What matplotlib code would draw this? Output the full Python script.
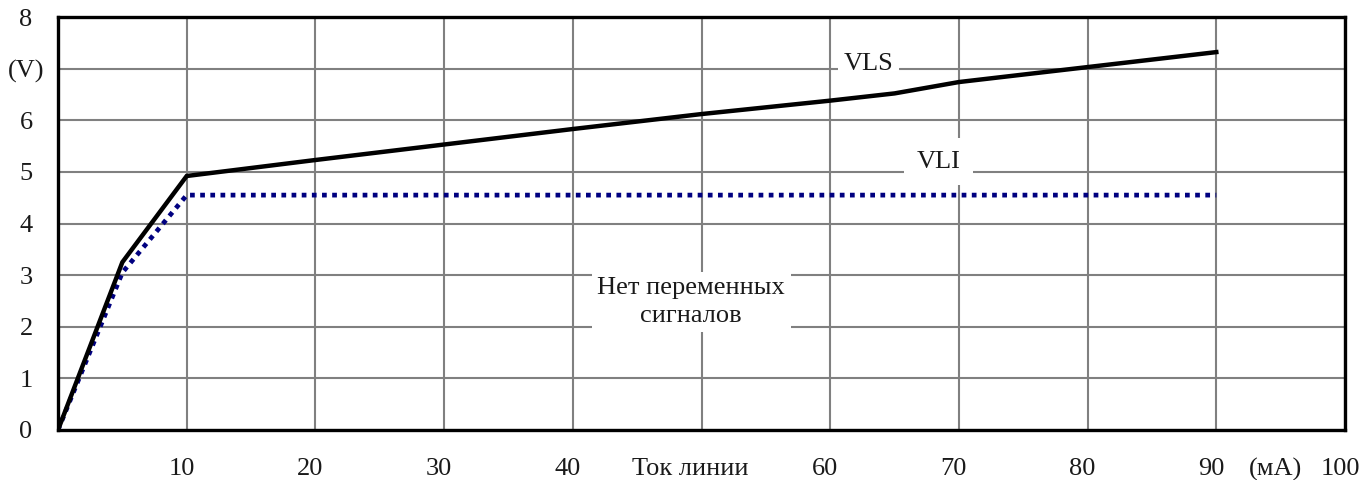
import matplotlib
matplotlib.use("Agg")
import matplotlib.pyplot as plt
import matplotlib.transforms as mtransforms

plt.rcParams['font.family'] = ['Liberation Serif', 'DejaVu Serif']

# line current (mA) and line voltages (V)
vls_current = [0, 5, 10, 20, 30, 40, 50, 60, 65, 70, 80, 90]
vls_voltage = [0, 3.25, 4.92, 5.23, 5.53, 5.83, 6.12, 6.38, 6.52, 6.74, 7.03, 7.32]

vli_current = [0, 5, 10, 90]
vli_voltage = [0, 3.05, 4.55, 4.55]

x_ticks = [10, 20, 30, 40, 50, 60, 70, 80, 90, 100]
x_labels = ['10', '20', '30', '40', 'Ток линии', '60', '70', '80', '90', '100']
y_ticks = [0, 1, 2, 3, 4, 5, 6, 7, 8]
y_labels = ['0', '1', '2', '3', '4', '5', '6', '(V)', '8']

FS = 19
TXT = '#1a1a1a'

W, H = 1361, 480
fig = plt.figure(figsize=(W / 100, H / 100), dpi=100)
ax = fig.add_axes([58 / W, (H - 430) / H, (1345 - 58) / W, (430 - 17) / H])

ax.plot(vls_current, vls_voltage, color='black', lw=3.2, zorder=4,
        solid_joinstyle='miter')
ax.plot(vli_current, vli_voltage, color='#000080', lw=3.4,
        linestyle=(0, (1, 1.15)), zorder=3)

ax.set_xlim(0, 100)
ax.set_ylim(0, 8)
ax.set_xticks(x_ticks)
ax.set_xticklabels(x_labels)
ax.set_yticks(y_ticks)
ax.set_yticklabels(y_labels, ha='center')
ax.tick_params(length=0, labelsize=FS, labelcolor=TXT)
ax.tick_params(axis='x', pad=20)
ax.tick_params(axis='y', pad=23)

# labels in the source sit a few pixels left of their gridlines
for lab in ax.get_xticklabels():
    dx = -11 if lab.get_text() == 'Ток линии' else -5
    lab.set_transform(lab.get_transform() +
                      mtransforms.ScaledTranslation(dx / 100, 0, fig.dpi_scale_trans))

ax.grid(True, color='#808080', lw=1.5)
ax.set_axisbelow(True)
for sp in ax.spines.values():
    sp.set_linewidth(2.4)
    sp.set_color('black')
    sp.set_zorder(5)

box = dict(facecolor='white', edgecolor='none', pad=4)
ax.text(63.0, 7.08, 'VLS', fontsize=FS, color=TXT,
        ha='center', va='center', bbox=box, zorder=6)
ax.text(68.4, 5.2, 'VLI', fontsize=FS, color=TXT,
        ha='center', va='center', bbox=dict(facecolor='white', edgecolor='none', pad=9), zorder=6)
ax.text(49.2, 2.48, 'Нет переменных\nсигналов', fontsize=FS, color=TXT,
        ha='center', va='center', linespacing=1.3, bbox=box, zorder=6)
ax.annotate('(мА)', xy=(94.6, 0), xycoords=('data', 'axes fraction'),
            xytext=(0, -20), textcoords='offset points',
            fontsize=FS, color=TXT, ha='center', va='top')

fig.savefig('out.png', dpi=100)
